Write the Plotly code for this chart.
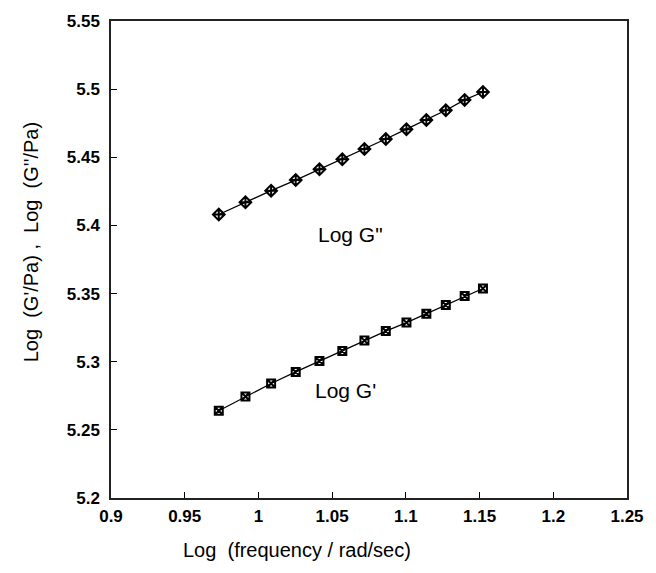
import plotly.graph_objects as go

# log10(frequency / rad/sec)
log_freq = [0.9731, 0.9912, 1.0086, 1.0253, 1.0414, 1.0569, 1.0719,
            1.0864, 1.1004, 1.1139, 1.1271, 1.1399, 1.1523]
log_g2 = [5.408, 5.417, 5.4255, 5.4333, 5.4412, 5.4485, 5.4561,
          5.4634, 5.4706, 5.4774, 5.4845, 5.4921, 5.4979]
log_g1 = [5.264, 5.2745, 5.2840, 5.2925, 5.3005, 5.3078, 5.3155,
          5.3225, 5.3287, 5.3352, 5.3416, 5.3482, 5.3537]

x_ticks = [0.9, 0.95, 1.0, 1.05, 1.1, 1.15, 1.2, 1.25]
x_tick_text = ["0.9", "0.95", "1", "1.05", "1.1", "1.15", "1.2", "1.25"]
y_ticks = [5.2, 5.25, 5.3, 5.35, 5.4, 5.45, 5.5, 5.55]
y_tick_text = ["5.2", "5.25", "5.3", "5.35", "5.4", "5.45", "5.5", "5.55"]

FONT = "Liberation Sans, Arial, sans-serif"

fig = go.Figure()
fig.add_trace(go.Scatter(
    x=log_freq, y=log_g2, mode="lines+markers", name="Log G''",
    line=dict(color="black", width=1.3),
    marker=dict(symbol="diamond-cross-open", size=9, color="black",
                line=dict(color="black", width=2)),
))
fig.add_trace(go.Scatter(
    x=log_freq, y=log_g1, mode="lines+markers", name="Log G'",
    line=dict(color="black", width=1.3),
    marker=dict(symbol="square-x-open", size=8, color="black",
                line=dict(color="black", width=2)),
))

fig.add_annotation(x=1.0624, y=5.393, text="Log G\"", showarrow=False,
                   font=dict(family=FONT, size=21, color="black"))
fig.add_annotation(x=1.059, y=5.279, text="Log G'", showarrow=False,
                   font=dict(family=FONT, size=21, color="black"))

fig.add_annotation(x=0.36, y=-0.11, xref="paper", yref="paper",
                   text="Log  (frequency / rad/sec)", showarrow=False,
                   xanchor="center", yanchor="middle",
                   font=dict(family=FONT, size=20, color="black"))
fig.add_annotation(x=-0.156, y=0.535, xref="paper", yref="paper",
                   text="Log  (G'/Pa) ,  Log  (G''/Pa)", showarrow=False,
                   textangle=-90, xanchor="center", yanchor="middle",
                   font=dict(family=FONT, size=20, color="black"))

axis_common = dict(
    showgrid=False, zeroline=False, showline=True, linecolor="#222",
    linewidth=1.5, mirror=True, ticks="inside", ticklen=6, tickwidth=1,
    tickcolor="black",
    tickfont=dict(family=FONT, size=17, color="black", weight="bold"),
)
fig.update_xaxes(range=[0.9, 1.25], tickvals=x_ticks, ticktext=x_tick_text,
                 ticklabelstandoff=2, **axis_common)
fig.update_yaxes(range=[5.2, 5.55], tickvals=y_ticks, ticktext=y_tick_text,
                 ticklabelstandoff=6, **axis_common)

fig.update_layout(
    width=656, height=573,
    margin=dict(l=111, r=19, t=21, b=75),
    paper_bgcolor="white", plot_bgcolor="white",
    showlegend=False,
    font=dict(family=FONT, color="black"),
)

fig.write_html("out.html")
